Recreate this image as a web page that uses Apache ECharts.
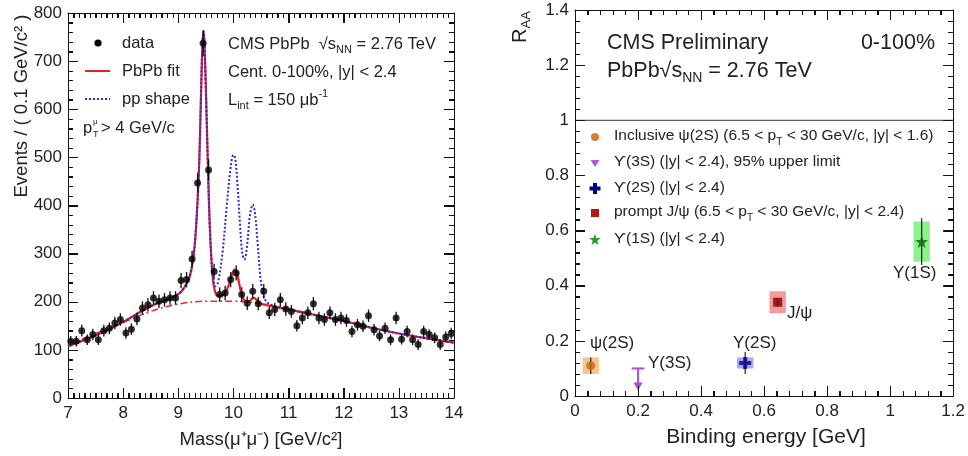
<!DOCTYPE html>
<html>
<head>
<meta charset="utf-8">
<script src="https://cdn.jsdelivr.net/npm/echarts@6/dist/echarts.min.js"></script>
<style>html,body{margin:0;padding:0;background:#fff;}#c{width:968px;height:456px;background:#fff;}</style>
</head>
<body>
<div id="c"></div>
<script>
// ---------- Left panel: dimuon mass spectrum ----------
const massBins = [7.05,7.15,7.25,7.35,7.45,7.55,7.65,7.75,7.85,7.95,
  8.05,8.15,8.25,8.35,8.45,8.55,8.65,8.75,8.85,8.95,
  9.05,9.15,9.25,9.35,9.45,9.55,9.65,9.75,9.85,9.95,
  10.05,10.15,10.25,10.35,10.45,10.55,10.65,10.75,10.85,10.95,
  11.05,11.15,11.25,11.35,11.45,11.55,11.65,11.75,11.85,11.95,
  12.05,12.15,12.25,12.35,12.45,12.55,12.65,12.75,12.85,12.95,
  13.05,13.15,13.25,13.35,13.45,13.55,13.65,13.75,13.85,13.95];
const events = [118,118,140,121,132,121,140,145,156,163,
  135,143,164,187,194,208,201,204,208,208,
  244,246,289,447,737,474,263,215,218,246,
  260,215,197,222,196,222,177,184,204,185,
  180,150,166,177,196,166,163,177,163,166,
  161,138,152,149,171,142,129,145,121,166,
  122,138,121,111,138,132,125,111,127,134];
const eventsErr = [11,11,12,11,12,11,12,12,13,13,
  12,12,13,14,14,14,14,14,14,14,
  16,16,17,21,27,22,16,15,15,16,
  16,15,14,15,14,15,13,14,14,14,
  13,12,13,13,14,13,13,13,13,13,
  13,12,12,12,13,12,11,12,11,13,
  11,12,11,11,12,11,11,11,11,12];
const fitX = [7.0,7.5,8.0,8.3,8.6,8.8,9.0,9.1,9.2,9.25,9.3,9.35,9.38,9.41,9.44,9.46,9.48,9.51,9.54,9.57,9.6,9.63,9.67,9.72,9.8,9.9,9.96,10.02,10.06,10.1,10.15,10.2,10.28,10.33,10.37,10.42,10.48,10.6,11.0,11.5,12.0,12.5,13.0,13.5,14.0];
const fitY = [108,130,158,178,196,205,216,228,250,275,320,410,490,620,740,762,720,600,470,360,290,245,220,212,213,230,252,267,262,240,215,203,200,206,208,204,197,193,184,172,160,146,134,124,115];
const ppX = [7.0,7.5,8.0,8.3,8.6,8.8,9.0,9.1,9.2,9.25,9.3,9.35,9.38,9.41,9.44,9.46,9.48,9.51,9.54,9.57,9.6,9.63,9.67,9.72,9.8,9.88,9.95,10.0,10.03,10.07,10.12,10.16,10.2,10.25,10.3,10.35,10.39,10.44,10.49,10.54,10.6,10.7,11.0,11.5,12.0,12.5,13.0,13.5,14.0];
const ppY = [108,130,158,178,196,205,216,228,250,275,320,410,490,620,740,762,720,600,470,360,290,250,232,240,300,400,480,505,500,450,360,300,288,320,380,402,385,320,250,215,200,193,184,172,160,146,134,124,115];
const bkgX = [7.0,7.5,8.0,8.5,9.0,9.5,10.0,10.5,11.0,11.5,12.0,12.5,13.0,13.5,14.0];
const bkgY = [110,134,157,180,195,201,201,196,185,173,160,147,134,124,115];
const massTicks = [7,8,9,10,11,12,13,14];
const eventTicks = [0,100,200,300,400,500,600,700,800];

// ---------- Right panel: R_AA vs binding energy ----------
const stateNames = ['ψ(2S)','Υ(2S)','J/ψ','Υ(1S)'];
const bindingE = [0.05, 0.54, 0.643, 1.10];
const raa = [0.11, 0.12, 0.34, 0.56];
const raaStat = [0.03, 0.04, 0.015, 0.085];
const raaSyst = [0.03, 0.02, 0.04, 0.073];
const ups3sE = [0.20];
const ups3sLimit = [0.10];
const unityLine = [[0,1],[1.2,1]];
const energyTicks = [0,0.2,0.4,0.6,0.8,1.0,1.2];
const raaTicks = [0,0.2,0.4,0.6,0.8,1.0,1.2,1.4];

const F = '"Liberation Sans", Arial, Helvetica, sans-serif';
const TXT = '#222';
const AX = '#111';

function richSet(s){
  return {
    n:{fontSize:s, fontFamily:F, fill:TXT, lineHeight:s+6},
    sb:{fontSize:Math.round(s*0.65), fontFamily:F, fill:TXT, verticalAlign:'bottom'},
    sp:{fontSize:Math.round(s*0.65), fontFamily:F, fill:TXT, verticalAlign:'top'}
  };
}
function T(x, y, text, s, extra){
  return Object.assign({type:'text', x:x, y:y, z:100,
    style:{text:text, rich:richSet(s), fontSize:s, fontFamily:F, fill:TXT, align:'left', verticalAlign:'middle'}}, extra||{});
}
function P(x, y, text, s, align, rot){
  const o = {type:'text', x:x, y:y, z:100,
    style:{text:text, fontSize:s, fontFamily:F, fill:TXT, align:align||'left', verticalAlign:'middle'}};
  if (rot) o.rotation = rot;
  return o;
}

function frameAxes(gi, ticks, nMinor, labelSize, isX){
  function mk(main){
    return {
      gridIndex:gi, type:'value', min:ticks[0], max:ticks[ticks.length-1],
      interval:Math.round((ticks[1]-ticks[0])*1000)/1000,
      position: isX ? (main?'bottom':'top') : (main?'left':'right'),
      axisLine:{show:true, onZero:false, lineStyle:{color:AX, width:1}},
      axisTick:{show:true, inside:true, length:10, lineStyle:{color:AX, width:1}},
      minorTick:{show:true, splitNumber:nMinor, length:5, lineStyle:{color:AX, width:1}},
      splitLine:{show:false},
      axisLabel: main ? {show:true, fontSize:labelSize, color:TXT, margin:isX?7:6} : {show:false}
    };
  }
  return [mk(true), mk(false)];
}

const chart = echarts.init(document.getElementById('c'));

const xL = frameAxes(0, massTicks, 10, 17, true);
const yL = frameAxes(0, eventTicks, 5, 17, false);
const xR = frameAxes(1, energyTicks, 5, 17, true);
const yR = frameAxes(1, raaTicks, 5, 17, false);

const boxColors = ['#f7c48e','#a8a8ff','#f39a9a','#8ef08e'];
const markerColors = ['#c06a1e','#00007a','#800000','#0a6a0a'];
const markerSymbols = ['circle',
  'path://M-1,-3L1,-3L1,-1L3,-1L3,1L1,1L1,3L-1,3L-1,1L-3,1L-3,-1L-1,-1Z',
  'rect',
  'path://M0,-10L2.35,-3.24L9.51,-3.09L3.8,1.24L5.88,8.09L0,4L-5.88,8.09L-3.8,1.24L-9.51,-3.09L-2.35,-3.24Z'];
const markerSizes = [9, 12, 9, 13];

const series = [];
series.push({type:'line', xAxisIndex:0, yAxisIndex:0, data:bkgX.map((x,i)=>[x,bkgY[i]]),
  showSymbol:false, smooth:0.4, lineStyle:{color:'#e03030', width:1.5, type:[7,3,2,3]}, z:2, silent:true});
series.push({type:'line', xAxisIndex:0, yAxisIndex:0, data:fitX.map((x,i)=>[x,fitY[i]]),
  showSymbol:false, smooth:0.35, lineStyle:{color:'#e02424', width:2.2}, z:3, silent:true});
series.push({type:'line', xAxisIndex:0, yAxisIndex:0, data:ppX.map((x,i)=>[x,ppY[i]]),
  showSymbol:false, smooth:0.35, lineStyle:{color:'#2a2ae0', width:2, type:[2,2]}, z:4, silent:true});
series.push({type:'custom', xAxisIndex:0, yAxisIndex:0, z:5, silent:true,
  data:massBins.map((x,i)=>[x, events[i], eventsErr[i]]),
  renderItem:function(p, api){
    const x=api.value(0), y=api.value(1), e=api.value(2);
    const a=api.coord([x,y-e]), b=api.coord([x,y+e]);
    return {type:'line', shape:{x1:a[0],y1:a[1],x2:b[0],y2:b[1]}, style:{stroke:'#111', lineWidth:1.3}};
  }});
series.push({type:'scatter', xAxisIndex:0, yAxisIndex:0, z:6, silent:true,
  data:massBins.map((x,i)=>[x, events[i]]), symbol:'circle', symbolSize:7, itemStyle:{color:'#000'}});

series.push({type:'line', xAxisIndex:2, yAxisIndex:2, data:unityLine, showSymbol:false,
  lineStyle:{color:'#333', width:1}, silent:true, z:1});
series.push({type:'custom', xAxisIndex:2, yAxisIndex:2, z:2, silent:true,
  data:bindingE.map((x,i)=>[x, raa[i], raaSyst[i]]),
  renderItem:function(p, api){
    const x=api.value(0), y=api.value(1), s=api.value(2);
    const a=api.coord([x-0.026,y+s]), b=api.coord([x+0.026,y-s]);
    return {type:'rect', shape:{x:a[0], y:a[1], width:b[0]-a[0], height:b[1]-a[1]},
      style:{fill:boxColors[p.dataIndex]}};
  }});
series.push({type:'custom', xAxisIndex:2, yAxisIndex:2, z:3, silent:true,
  data:bindingE.map((x,i)=>[x, raa[i], raaStat[i]]),
  renderItem:function(p, api){
    const x=api.value(0), y=api.value(1), e=api.value(2);
    const a=api.coord([x,y-e]), b=api.coord([x,y+e]);
    return {type:'line', shape:{x1:a[0],y1:a[1],x2:b[0],y2:b[1]}, style:{stroke:'#222', lineWidth:1.2}};
  }});
bindingE.forEach((x,i)=>{
  series.push({type:'scatter', xAxisIndex:2, yAxisIndex:2, z:4, silent:true,
    data:[[x, raa[i]]], symbol:markerSymbols[i], symbolSize:markerSizes[i],
    itemStyle:{color:markerColors[i]}});
});
series.push({type:'custom', xAxisIndex:2, yAxisIndex:2, z:4, silent:true,
  data:ups3sE.map((x,i)=>[x, ups3sLimit[i]]),
  renderItem:function(p, api){
    const x=api.value(0), y=api.value(1);
    const c=api.coord([x,y]);
    const l=api.coord([x-0.02,y]), r=api.coord([x+0.02,y]);
    const col='#b048e8';
    return {type:'group', children:[
      {type:'line', shape:{x1:l[0],y1:c[1],x2:r[0],y2:c[1]}, style:{stroke:col, lineWidth:2}},
      {type:'line', shape:{x1:c[0],y1:c[1],x2:c[0],y2:c[1]+16}, style:{stroke:col, lineWidth:2}},
      {type:'polygon', shape:{points:[[c[0]-4.5,c[1]+14],[c[0]+4.5,c[1]+14],[c[0],c[1]+22]]}, style:{fill:col}}
    ]};
  }});

const graphic = [
  P(22, 106, 'Events / ( 0.1 GeV/c² )', 18.5, 'center', Math.PI/2),
  P(261, 440, 'Mass(μ⁺μ⁻) [GeV/c²]', 18.5, 'center'),
  {type:'circle', shape:{cx:98, cy:43, r:3.6}, style:{fill:'#000'}, z:100},
  {type:'line', shape:{x1:85, y1:71, x2:110, y2:71}, style:{stroke:'#e02424', lineWidth:2}, z:100},
  {type:'line', shape:{x1:85, y1:99, x2:110, y2:99}, style:{stroke:'#2a2ae0', lineWidth:2, lineDash:[2,2]}, z:100},
  T(122, 43, '{n|data}', 16.5),
  T(122, 71, '{n|PbPb fit}', 16.5),
  T(122, 99, '{n|pp shape}', 16.5),
  T(83, 128, '{n|p}', 16.5),
  P(93, 122, 'μ', 8),
  P(93, 135, 'T', 9),
  T(101, 128, '{n|> 4 GeV/c}', 16.5),
  T(228, 44, '{n|CMS PbPb  √s}{sb|NN}{n| = 2.76 TeV}', 16.5),
  T(228, 72, '{n|Cent. 0-100%, |y| < 2.4}', 16.5),
  T(228, 100, '{n|L}{sb|int}{n| = 150 μb}{sp|-1}', 16.5),
  T(520, 27, '{n|R}{sb|AA}', 20, {rotation:Math.PI/2, style:{text:'{n|R}{sb|AA}', rich:richSet(20), fontSize:20, fontFamily:F, fill:TXT, align:'center', verticalAlign:'middle'}}),
  P(766, 437, 'Binding energy [GeV]', 21, 'center'),
  T(607, 43, '{n|CMS Preliminary}', 21.5),
  T(935, 43, '{n|0-100%}', 21.5, {style:{text:'{n|0-100%}', rich:richSet(21.5), fontSize:21.5, fontFamily:F, fill:TXT, align:'right', verticalAlign:'middle'}}),
  T(607, 71, '{n|PbPb√s}{sb|NN}{n| = 2.76 TeV}', 21.5),
  {type:'circle', shape:{cx:595, cy:137, r:4}, style:{fill:'#d4802e'}, z:100},
  {type:'polygon', shape:{points:[[590.5,160],[599.5,160],[595,167]]}, style:{fill:'#b058e6'}, z:100},
  {type:'polygon', shape:{points:[[593,183],[597,183],[597,186.5],[600.5,186.5],[600.5,190.5],[597,190.5],[597,194],[593,194],[593,190.5],[589.5,190.5],[589.5,186.5],[593,186.5]]}, style:{fill:'#00008a'}, z:100},
  {type:'rect', shape:{x:591, y:209, width:8, height:8}, style:{fill:'#b01818'}, z:100},
  {type:'polygon', shape:{points:[[595,234],[596.4,237.9],[600.7,238.1],[597.3,240.7],[598.5,244.9],[595,242.4],[591.5,244.9],[592.7,240.7],[589.3,238.1],[593.6,237.9]]}, style:{fill:'#22a022'}, z:100},
  T(614, 136, '{n|Inclusive ψ(2S) (6.5 < p}{sb|T}{n| < 30 GeV/c, |y| < 1.6)}', 15.5),
  T(614, 162, '{n|ϒ(3S) (|y| < 2.4), 95% upper limit}', 15.5),
  T(614, 188, '{n|ϒ(2S) (|y| < 2.4)}', 15.5),
  T(614, 212, '{n|prompt J/ψ (6.5 < p}{sb|T}{n| < 30 GeV/c, |y| < 2.4)}', 15.5),
  T(614, 239, '{n|ϒ(1S) (|y| < 2.4)}', 15.5),
  T(590, 343, '{n|ψ(2S)}', 17),
  T(648, 363, '{n|Υ(3S)}', 17),
  T(733, 343, '{n|Υ(2S)}', 17),
  T(787, 313, '{n|J/ψ}', 17),
  T(893, 273, '{n|Υ(1S)}', 17)
];

try {
  chart.setOption({
    animation:false,
    grid:[{left:68, top:13, width:386, height:385},{left:575, top:10, width:381, height:386}],
    xAxis:[xL[0], xL[1], xR[0], xR[1]],
    yAxis:[yL[0], yL[1], yR[0], yR[1]],
    series:series,
    graphic:graphic
  });
} catch (e) {}

// ROOT-style frame ticks on all four sides, positioned through the library's axis scales
function frameTickLines(finder, xt, xn, yt, yn){
  const out = [];
  const st = {stroke:'#111', lineWidth:1};
  const x0 = xt[0], x1 = xt[xt.length-1], y0 = yt[0], y1 = yt[yt.length-1];
  for (let k = 0; k < xt.length - 1; k++) {
    for (let j = 0; j < xn; j++) {
      const v = xt[k] + j*(xt[k+1]-xt[k])/xn, L = j===0 ? 10 : 5;
      const b = chart.convertToPixel(finder, [v, y0]), t = chart.convertToPixel(finder, [v, y1]);
      const x = Math.round(b[0]) + 0.5;
      out.push({type:'line', z:50, shape:{x1:x, y1:b[1], x2:x, y2:b[1]-L}, style:st});
      out.push({type:'line', z:50, shape:{x1:x, y1:t[1], x2:x, y2:t[1]+L}, style:st});
    }
  }
  for (let k = 0; k < yt.length - 1; k++) {
    for (let j = 0; j < yn; j++) {
      const v = yt[k] + j*(yt[k+1]-yt[k])/yn, L = j===0 ? 10 : 5;
      const l = chart.convertToPixel(finder, [x0, v]), r = chart.convertToPixel(finder, [x1, v]);
      const y = Math.round(l[1]) + 0.5;
      out.push({type:'line', z:50, shape:{x1:l[0], y1:y, x2:l[0]+L, y2:y}, style:st});
      out.push({type:'line', z:50, shape:{x1:r[0], y1:y, x2:r[0]-L, y2:y}, style:st});
    }
  }
  return out;
}
try {
  const ticks = frameTickLines({xAxisIndex:0, yAxisIndex:0}, massTicks, 10, eventTicks, 5)
    .concat(frameTickLines({xAxisIndex:2, yAxisIndex:2}, energyTicks, 5, raaTicks, 5));
  chart.setOption({graphic: graphic.concat(ticks)});
} catch (e) {}
</script>
</body>
</html>
